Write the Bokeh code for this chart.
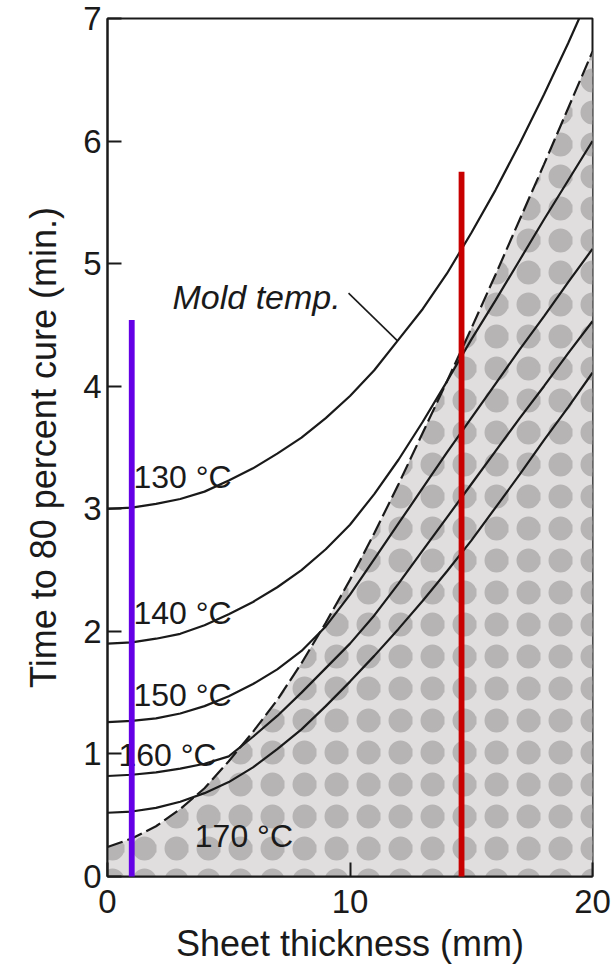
from bokeh.plotting import figure
from bokeh.models import FixedTicker, Range1d, BoxAnnotation, ColumnDataSource
from bokeh.embed import file_html
from bokeh.resources import INLINE
from bokeh.core.properties import value

# Sheet thickness (mm)
thickness = [0, 1, 2, 3, 4, 5, 6, 7, 8, 9, 10, 11, 12, 13, 14, 15, 16, 17, 18, 19, 20]
# the 130 °C curve leaves the top of the chart just before 20 mm
thickness_130 = [0, 1, 2, 3, 4, 5, 6, 7, 8, 9, 10, 11, 12, 13, 14, 15, 16, 17, 18, 19, 19.45]

# Time to 80 percent cure (min.) at each mold temperature
cure_130 = [3.00, 3.01, 3.04, 3.08, 3.14, 3.23, 3.33, 3.45, 3.58, 3.74, 3.92,
            4.13, 4.38, 4.63, 4.92, 5.25, 5.60, 5.98, 6.38, 6.80, 7.00]
cure_140 = [1.90, 1.91, 1.94, 1.98, 2.05, 2.14, 2.24, 2.36, 2.50, 2.67, 2.87,
            3.12, 3.40, 3.71, 4.04, 4.38, 4.70, 5.03, 5.36, 5.68, 6.00]
cure_150 = [1.26, 1.27, 1.29, 1.33, 1.39, 1.47, 1.57, 1.69, 1.84, 2.04, 2.30,
            2.59, 2.88, 3.17, 3.46, 3.74, 4.02, 4.30, 4.57, 4.85, 5.12]
cure_160 = [0.82, 0.83, 0.85, 0.88, 0.92, 0.98, 1.14, 1.31, 1.50, 1.70, 1.90,
            2.13, 2.39, 2.66, 2.93, 3.20, 3.47, 3.74, 4.00, 4.27, 4.53]
cure_170 = [0.52, 0.53, 0.56, 0.61, 0.68, 0.77, 0.89, 1.04, 1.20, 1.39, 1.59,
            1.80, 2.02, 2.25, 2.49, 2.74, 3.01, 3.28, 3.56, 3.83, 4.11]

# Dashed boundary of the shaded region
boundary = [0.24, 0.31, 0.41, 0.55, 0.72, 0.94, 1.18, 1.44, 1.74, 2.07, 2.42,
            2.80, 3.20, 3.62, 4.04, 4.47, 4.91, 5.36, 5.81, 6.27, 6.73]

temp_labels = ["130 °C", "140 °C", "150 °C", "160 °C", "170 °C"]

x_ticks = [0, 10, 20]
y_ticks = [0, 1, 2, 3, 4, 5, 6, 7]

# Marker lines at two sheet thicknesses (mm)
marker_thickness = [1.0, 14.6]

INK = "#1a1a1a"
FONT = "Liberation Sans"

p = figure(width=613, height=966,
           x_range=Range1d(0, 20), y_range=Range1d(0, 7),
           output_backend="svg", toolbar_location=None,
           min_border_left=107, min_border_right=21,
           min_border_top=18, min_border_bottom=89,
           background_fill_color="white", border_fill_color="white")

p.grid.visible = False
p.outline_line_color = INK
p.outline_line_width = 2

for ax in (p.xaxis[0], p.yaxis[0]):
    ax.axis_line_color = INK
    ax.axis_line_width = 2
    ax.major_tick_in = 14
    ax.major_tick_out = 0
    ax.major_tick_line_color = INK
    ax.major_tick_line_width = 2
    ax.minor_tick_line_color = None
    ax.major_label_text_font = FONT
    ax.major_label_text_font_size = "33px"
    ax.major_label_text_color = INK
    ax.axis_label_text_font = FONT
    ax.axis_label_text_font_size = "36px"
    ax.axis_label_text_font_style = "normal"
    ax.axis_label_text_color = INK

p.xaxis.ticker = FixedTicker(ticks=x_ticks)
p.yaxis.ticker = FixedTicker(ticks=y_ticks)
p.xaxis.axis_label = "Sheet thickness (mm)"
p.yaxis.axis_label = "Time to 80 percent cure (min.)"
p.xaxis.major_label_standoff = 13
p.xaxis.axis_label_standoff = 7
p.yaxis.major_label_standoff = 6
p.yaxis.axis_label_standoff = 16

# shaded region under the dashed boundary: soft grey blobs on a light base
BLOB = "#b6b4b4"
p.varea(x=thickness, y1=0, y2=boundary,
        fill_color="#e0dede", fill_alpha=1.0,
        hatch_pattern="o", hatch_color=BLOB, hatch_alpha=1.0,
        hatch_weight=8, hatch_scale=32)
p.varea(x=thickness, y1=0, y2=boundary,
        fill_alpha=0.0,
        hatch_pattern="dot", hatch_color=BLOB, hatch_alpha=1.0,
        hatch_weight=12, hatch_scale=32)

# dashed boundary
p.line(thickness, boundary, line_color=INK, line_width=2.2, line_dash="16 5")

# mold temperature curves
p.line(thickness_130, cure_130, line_color=INK, line_width=2.2)
for series in (cure_140, cure_150, cure_160, cure_170):
    p.line(thickness, series, line_color=INK, line_width=2.2)

# curve labels
label_src = ColumnDataSource(dict(
    x=[1.07, 1.07, 1.07, 0.45, 3.6],
    y=[3.26, 2.15, 1.48, 0.99, 0.33],
    text=temp_labels,
))
p.text(x="x", y="y", text="text", source=label_src,
       text_font=value(FONT), text_font_size="32px", text_color=INK,
       text_align="left", text_baseline="alphabetic")

p.text(x=[2.68], y=[4.73], text=["Mold temp."],
       text_font=value(FONT), text_font_size="34px", text_font_style="italic",
       text_color=INK, text_align="left", text_baseline="alphabetic")
p.segment(x0=[9.94], y0=[4.76], x1=[11.96], y1=[4.37], line_color=INK, line_width=1.6)

# vertical marker lines, extending past the frame
half = 0.12
p.add_layout(BoxAnnotation(left=marker_thickness[0] - half, right=marker_thickness[0] + half,
                           top=4.54, bottom=-0.39, fill_color="#6400e6", fill_alpha=1.0,
                           line_color=None, level="overlay"))
p.add_layout(BoxAnnotation(left=marker_thickness[1] - half, right=marker_thickness[1] + half,
                           top=5.75, bottom=-0.28, fill_color="#c80000", fill_alpha=1.0,
                           line_color=None, level="overlay"))

open("out.html", "w").write(file_html(p, INLINE))
